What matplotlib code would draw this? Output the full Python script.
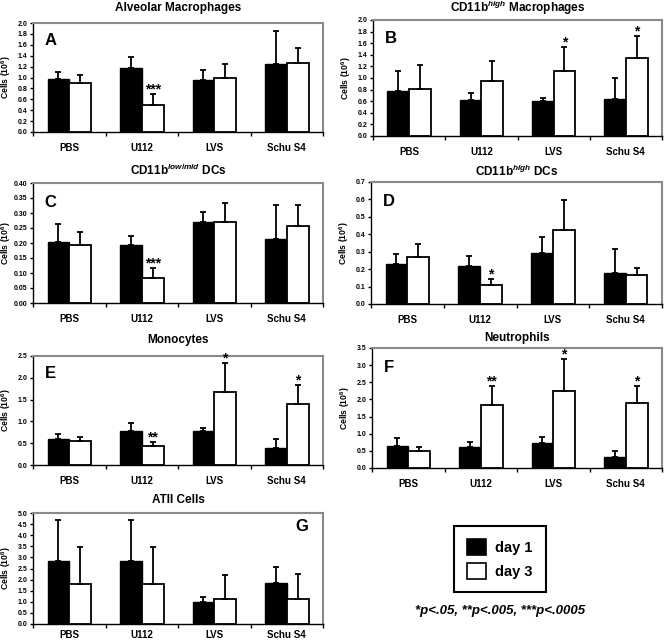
import numpy as np
import matplotlib
matplotlib.use("Agg")
import matplotlib.pyplot as plt
from matplotlib.patches import Patch

plt.rcParams['font.family'] = ['Liberation Sans', 'DejaVu Sans']
plt.rcParams['font.weight'] = 'bold'
plt.rcParams['mathtext.fontset'] = 'custom'
plt.rcParams['mathtext.rm'] = 'Liberation Sans:bold'
plt.rcParams['mathtext.it'] = 'Liberation Sans:italic:bold'
plt.rcParams['mathtext.bf'] = 'Liberation Sans:bold'

# data
groups = ['PBS', 'U112', 'LVS', 'Schu S4']

alv_d1 = [0.98, 1.18, 0.95, 1.24]
alv_d1_err = [0.13, 0.20, 0.18, 0.62]
alv_d3 = [0.89, 0.49, 1.00, 1.27]
alv_d3_err = [0.16, 0.20, 0.24, 0.27]
alv_stars = ['', '***', '', '']

mac_d1 = [0.78, 0.62, 0.61, 0.64]
mac_d1_err = [0.34, 0.13, 0.04, 0.36]
mac_d3 = [0.81, 0.94, 1.12, 1.35]
mac_d3_err = [0.42, 0.36, 0.42, 0.38]
mac_stars = ['', '', '*', '*']

dclow_d1 = [0.204, 0.194, 0.270, 0.212]
dclow_d1_err = [0.059, 0.031, 0.032, 0.115]
dclow_d3 = [0.194, 0.085, 0.271, 0.257]
dclow_d3_err = [0.044, 0.032, 0.064, 0.070]
dclow_stars = ['', '***', '', '']

dchi_d1 = [0.229, 0.219, 0.290, 0.179]
dchi_d1_err = [0.057, 0.058, 0.095, 0.134]
dchi_d3 = [0.267, 0.111, 0.422, 0.164]
dchi_d3_err = [0.080, 0.032, 0.173, 0.044]
dchi_stars = ['', '*', '', '']

mono_d1 = [0.60, 0.78, 0.77, 0.40]
mono_d1_err = [0.11, 0.18, 0.08, 0.20]
mono_d3 = [0.54, 0.44, 1.67, 1.39]
mono_d3_err = [0.10, 0.08, 0.66, 0.44]
mono_stars = ['', '**', '*', '*']

neut_d1 = [0.64, 0.62, 0.73, 0.31]
neut_d1_err = [0.23, 0.15, 0.16, 0.20]
neut_d3 = [0.51, 1.83, 2.24, 1.89]
neut_d3_err = [0.09, 0.55, 0.94, 0.51]
neut_stars = ['', '**', '*', '*']

atii_d1 = [2.85, 2.85, 1.01, 1.85]
atii_d1_err = [1.85, 1.85, 0.21, 0.72]
atii_d3 = [1.80, 1.80, 1.11, 1.14]
atii_d3_err = [1.69, 1.69, 1.10, 1.13]
atii_stars = ['', '', '', '']

fig = plt.figure(figsize=(6.64, 6.4), dpi=100)
W, H = 664.0, 640.0


def add_panel(box, title, title_y, letter, d1, e1, d3, e3, stars, ymax, ystep,
              fmt, letter_right=False, xpad=8):
    x0, y0, x1, y1 = box
    ax = fig.add_axes([x0 / W, 1 - y1 / H, (x1 - x0) / W, (y1 - y0) / H])
    x = np.arange(len(groups)) + 0.5
    w = 0.3
    ax.bar(x - w / 2, d1, w, color='black', edgecolor='black', linewidth=1.0,
           yerr=[np.zeros(4), e1], error_kw=dict(ecolor='black', elinewidth=1.3,
                                                  capsize=2.5, capthick=1.3))
    ax.bar(x + w / 2, d3, w, color='white', edgecolor='black', linewidth=1.3,
           yerr=[np.zeros(4), e3], error_kw=dict(ecolor='black', elinewidth=1.3,
                                                  capsize=2.5, capthick=1.3))
    for xi, v, e, s in zip(x + w / 2, d3, e3, stars):
        if s:
            ax.text(xi, v + e - ymax * 0.02, s, ha='center', va='bottom',
                    fontsize=10, fontweight='bold', clip_on=False)
    ax.set_xlim(0, 4)
    ax.set_ylim(0, ymax)
    ticks = np.arange(0, ymax + ystep / 2, ystep)
    ax.set_yticks(ticks)
    ax.set_yticklabels([fmt % v for v in ticks], fontsize=5, fontweight='bold')
    ax.set_xticks([0, 1, 2, 3, 4])
    ax.set_xticklabels([])
    ax.set_xticks(x, minor=True)
    ax.set_xticklabels(groups, minor=True, fontsize=7, fontweight='bold')
    ax.tick_params(axis='x', which='minor', length=0, pad=xpad)
    ax.tick_params(axis='x', which='major', length=3, width=1, direction='out')
    ax.tick_params(axis='y', length=2.5, width=1, pad=1.5)
    for sp in ['top', 'right']:
        ax.spines[sp].set_color('#8a8a8a')
        ax.spines[sp].set_linewidth(1.5)
    for sp in ['left', 'bottom']:
        ax.spines[sp].set_color('black')
        ax.spines[sp].set_linewidth(1.0)
    ax.set_ylabel('Cells (10$^6$)', fontsize=6.2, fontweight='bold')
    ax.yaxis.set_label_coords(-0.068, 0.5)
    fig.text((x0 + x1) / 2 / W, 1 - title_y / H, title, ha='center', va='center',
             fontsize=8.5, fontweight='bold')
    if letter_right:
        ax.text(0.95, 0.88, letter, transform=ax.transAxes, ha='right', va='center',
                fontsize=12, fontweight='bold')
    else:
        ax.text(0.04, 0.84, letter, transform=ax.transAxes, ha='left', va='center',
                fontsize=12, fontweight='bold')
    return ax


add_panel((33, 23, 323, 132), 'Alveolar Macrophages', 8, 'A',
          alv_d1, alv_d1_err, alv_d3, alv_d3_err, alv_stars, 2.0, 0.2, '%.1f')
add_panel((373, 20, 662, 136), 'CD11b$^{\\mathit{high}}$ Macrophages', 8, 'B',
          mac_d1, mac_d1_err, mac_d3, mac_d3_err, mac_stars, 2.0, 0.2, '%.1f')
add_panel((33, 183, 323, 303), 'CD11b$^{\\mathit{low/mid}}$ DCs', 170, 'C',
          dclow_d1, dclow_d1_err, dclow_d3, dclow_d3_err, dclow_stars, 0.40, 0.05, '%.2f')
add_panel((371, 182, 662, 304), 'CD11b$^{\\mathit{high}}$ DCs', 171, 'D',
          dchi_d1, dchi_d1_err, dchi_d3, dchi_d3_err, dchi_stars, 0.7, 0.1, '%.1f')
add_panel((33, 356, 323, 465), 'Monocytes', 340, 'E',
          mono_d1, mono_d1_err, mono_d3, mono_d3_err, mono_stars, 2.5, 0.5, '%.1f')
add_panel((372, 348, 662, 468), 'Neutrophils', 338, 'F',
          neut_d1, neut_d1_err, neut_d3, neut_d3_err, neut_stars, 3.5, 0.5, '%.1f')
add_panel((33, 513, 323, 624), 'ATII Cells', 500, 'G',
          atii_d1, atii_d1_err, atii_d3, atii_d3_err, atii_stars, 5.0, 0.5, '%.1f',
          letter_right=True, xpad=4)

handles = [Patch(facecolor='black', edgecolor='black', linewidth=1.2),
           Patch(facecolor='white', edgecolor='black', linewidth=1.2)]
leg = fig.legend(handles, ['day 1', 'day 3'], loc='center',
                 bbox_to_anchor=(500 / W, 1 - 559 / H),
                 prop=dict(weight='bold', size=10.5), handlelength=1.3,
                 handleheight=1.3, fancybox=False, framealpha=1,
                 borderpad=0.9, labelspacing=0.6, handletextpad=0.6,
                 borderaxespad=0)
leg.get_frame().set_edgecolor('black')
leg.get_frame().set_linewidth(1.5)

fig.text(500 / W, 1 - 611 / H, '*p<.05, **p<.005, ***p<.0005', ha='center',
         va='center', fontsize=9.5, fontweight='bold', fontstyle='italic')

fig.savefig('out.png', dpi=100)
